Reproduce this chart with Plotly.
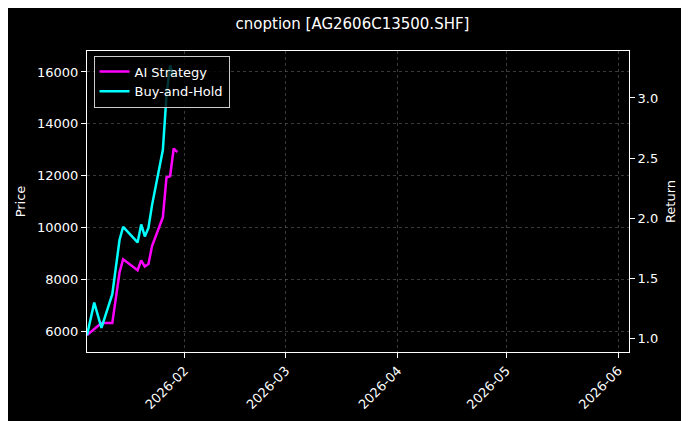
import plotly.graph_objects as go

dates = ["2026-01-05","2026-01-07","2026-01-09","2026-01-12","2026-01-14","2026-01-15","2026-01-19",
         "2026-01-20","2026-01-21","2026-01-22","2026-01-23","2026-01-26","2026-01-27","2026-01-28","2026-01-29"]
bh = [1.03,1.30,1.09,1.37,1.82,1.93,1.80,1.95,1.85,1.92,2.11,2.57,3.02,3.27,3.18]
ai_dates = ["2026-01-05","2026-01-07","2026-01-09","2026-01-12","2026-01-14","2026-01-15","2026-01-19",
            "2026-01-20","2026-01-21","2026-01-22","2026-01-23","2026-01-26","2026-01-27","2026-01-28","2026-01-29","2026-01-30"]
ai = [1.03,1.08,1.13,1.13,1.55,1.66,1.57,1.65,1.60,1.62,1.77,2.01,2.34,2.35,2.58,2.55]

fig = go.Figure()
fig.add_trace(go.Scatter(x=ai_dates, y=ai, name="AI Strategy", mode="lines",
                         line=dict(color="#ff00ff", width=2.5), yaxis="y2"))
fig.add_trace(go.Scatter(x=dates, y=bh, name="Buy-and-Hold", mode="lines",
                         line=dict(color="#00ffff", width=2.5), yaxis="y2"))
fig.add_trace(go.Scatter(x=[dates[0]], y=[6000], mode="markers", marker=dict(size=1, color="rgba(0,0,0,0)"),
                         showlegend=False, hoverinfo="skip"))

grid = "rgba(128,128,128,0.45)"
fig.update_layout(
    width=689, height=421, paper_bgcolor="black", plot_bgcolor="black",
    font=dict(family="DejaVu Sans", color="white", size=13),
    title=dict(text="cnoption [AG2606C13500.SHF]", x=0.5, xanchor="center", y=0.975, yanchor="top", font=dict(size=15)),
    margin=dict(l=70, r=68, t=43, b=77),
    showlegend=True,
    legend=dict(x=0.012, y=0.985, xanchor="left", yanchor="top", bgcolor="rgba(0,0,0,0.8)",
                bordercolor="#cccccc", borderwidth=1, font=dict(size=13)),
    xaxis=dict(type="date", range=["2026-01-05", "2026-06-04"], tickformat="%Y-%m", dtick="M1",
               tick0="2026-02-01", tickangle=-45, showgrid=True, gridcolor=grid, griddash="3px,3px", gridwidth=0.6,
               showline=True, linecolor="white", mirror=True, ticks="outside", tickcolor="white", zeroline=False),
    yaxis=dict(title=dict(text="Price", standoff=8, font=dict(size=13)), range=[5190, 16810], dtick=2000, tickformat="d", showgrid=True, gridcolor=grid,
               griddash="3px,3px", gridwidth=0.6, showline=True, linecolor="white", ticks="outside", tickcolor="white", zeroline=False),
    yaxis2=dict(title=dict(text="Return", standoff=8, font=dict(size=13)), overlaying="y", side="right", range=[0.89, 3.39], dtick=0.5,
                tickformat=".1f", showgrid=False, showline=True, linecolor="white", ticks="outside",
                tickcolor="white", zeroline=False),
)
fig.write_html("out.html")
